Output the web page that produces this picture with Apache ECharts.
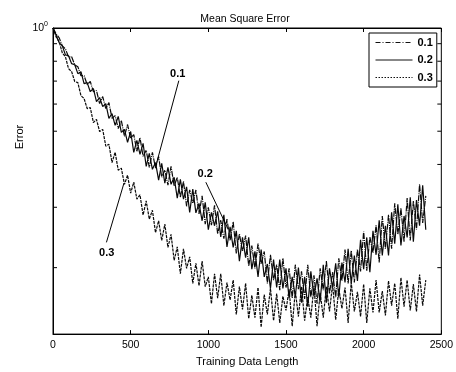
<!DOCTYPE html>
<html>
<head>
<meta charset="utf-8">
<script src="https://cdn.jsdelivr.net/npm/echarts@6/dist/echarts.min.js"></script>
<style>html,body{margin:0;padding:0;background:#fff}#c{width:456px;height:372px}</style>
</head>
<body>
<div id="c"></div>
<script>
// Training data length (samples)
var xs = [0,20,40,60,80,100,120,140,160,180,200,220,240,260,280,300,320,340,360,380,
400,420,440,460,480,500,520,540,560,580,600,620,640,660,680,700,720,740,760,780,
800,820,840,860,880,900,920,940,960,980,1000,1020,1040,1060,1080,1100,1120,1140,1160,1180,
1200,1220,1240,1260,1280,1300,1320,1340,1360,1380,1400,1420,1440,1460,1480,1500,1520,1540,1560,1580,
1600,1620,1640,1660,1680,1700,1720,1740,1760,1780,1800,1820,1840,1860,1880,1900,1920,1940,1960,1980,
2000,2020,2040,2060,2080,2100,2120,2140,2160,2180,2200,2220,2240,2260,2280,2300,2320,2340,2360,2380,2400];

// Mean square error, step size 0.1
var err01 = [1.000,.961,.936,.887,.869,.824,.824,.781,.771,.726,
.726,.684,.698,.652,.657,.602,.631,.582,.606,.545,
.555,.509,.537,.483,.523,.476,.489,.437,.479,.422,
.440,.392,.434,.390,.422,.367,.385,.348,.395,.346,
.367,.321,.357,.302,.337,.308,.337,.287,.324,.268,
.300,.266,.304,.251,.275,.243,.277,.240,.272,.220,
.251,.223,.248,.202,.232,.199,.235,.205,.223,.180,
.218,.184,.204,.172,.213,.175,.199,.163,.204,.173,
.195,.162,.204,.164,.190,.157,.199,.172,.209,.168,
.194,.164,.213,.183,.226,.180,.224,.181,.226,.195,
.255,.196,.246,.221,.266,.207,.283,.227,.285,.227,
.308,.250,.298,.238,.319,.240,.313,.258,.350,.270,.324];

// Mean square error, step size 0.2
var err02 = [1.000,.954,.905,.887,.835,.830,.787,.781,.736,.746,
.688,.693,.652,.666,.610,.627,.590,.602,.545,.563,
.520,.552,.496,.506,.464,.499,.434,.470,.428,.461,
.395,.431,.387,.405,.360,.403,.353,.392,.350,.367,
.319,.362,.317,.344,.290,.339,.289,.308,.274,.310,
.258,.290,.265,.292,.246,.285,.230,.263,.229,.256,
.209,.245,.214,.245,.198,.223,.188,.226,.188,.205,
.174,.211,.175,.211,.174,.199,.163,.188,.165,.200,
.158,.188,.154,.195,.165,.186,.159,.204,.158,.199,
.175,.206,.164,.207,.181,.227,.180,.217,.183,.241,
.198,.245,.194,.256,.218,.275,.217,.265,.217,.290,
.235,.306,.232,.283,.245,.321,.238,.315,.265,.348,.258];

// Mean square error, step size 0.3
var err03 = [1.000,.942,.911,.846,.824,.761,.746,.698,.693,.635,
.623,.582,.586,.530,.541,.499,.506,.452,.458,.405,
.434,.385,.390,.350,.372,.330,.355,.317,.326,.285,
.313,.277,.294,.253,.274,.240,.268,.229,.250,.210,
.230,.192,.227,.199,.215,.180,.206,.177,.209,.176,
.188,.157,.192,.163,.192,.155,.181,.161,.184,.146,
.176,.151,.180,.142,.166,.143,.175,.134,.167,.146,
.174,.140,.168,.138,.165,.150,.173,.135,.171,.144,
.176,.140,.164,.143,.177,.135,.169,.143,.176,.149,
.179,.141,.174,.152,.175,.138,.181,.149,.170,.144,
.179,.138,.174,.148,.184,.148,.171,.145,.183,.155,
.180,.142,.187,.154,.184,.150,.179,.149,.191,.155,.184];

var seriesNames = ['0.1','0.2','0.3'];
var xTicks = [0,500,1000,1500,2000,2500];
var yMinorTicks = [0.2,0.3,0.4,0.5,0.6,0.7,0.8,0.9];

// annotation labels and arrows (data coordinates)
var annLabels = [{name:'0.1', coord:[803,0.736]},{name:'0.2', coord:[980,0.375]},{name:'0.3', coord:[346,0.220]}];
var annArrows = [
  [[810,0.702],[660,0.393]],
  [[984,0.355],[1129,0.258]],
  [[344,0.237],[457,0.353]]
];

function pairs(v){ return xs.map(function(x,i){ return [x, v[i]]; }); }

var FONT = 'Liberation Sans, Arial, sans-serif';
var chart = echarts.init(document.getElementById('c'), null, {renderer:'canvas'});
var plotDash = [[6,1,1,1],'solid',[3,1]];
var legendDash = [[5,2,1,2],'solid',[1.5,1.5]];
var vals = [err01, err02, err03];

var series = seriesNames.map(function(n,k){
  return {
    name:n, type:'line', data:pairs(vals[k]), symbol:'none', showSymbol:false,
    lineStyle:{color:'#0a0a0a', width:1.2, type:plotDash[k]}, itemStyle:{color:'#111'},
    animation:false, silent:true, z:2
  };
});
series.push({
  name:'ann', type:'line', data:[], symbol:'none', silent:true, animation:false,
  markLine:{
    silent:true, symbol:['none','arrow'], symbolSize:[0,7], animation:false,
    lineStyle:{color:'#000', width:1, type:'solid'}, label:{show:false},
    data: annArrows.map(function(a){ return [{coord:a[0]},{coord:a[1]}]; })
  },
  markPoint:{
    silent:true, symbol:'circle', symbolSize:0, animation:false,
    label:{show:true, position:'inside', formatter:'{b}', color:'#000', fontSize:11, fontWeight:'bold', fontFamily:FONT},
    data: annLabels
  }
});
series.push({
  name:'yticks', type:'custom', data: yMinorTicks.map(function(v){ return [0,v]; }), silent:true, animation:false,
  renderItem:function(params, api){
    var p = api.coord([0, api.value(1)]);
    var cs = params.coordSys;
    return {type:'group', children:[
      {type:'line', shape:{x1:cs.x, y1:p[1], x2:cs.x+4, y2:p[1]}, style:{stroke:'#000', lineWidth:1}},
      {type:'line', shape:{x1:cs.x+cs.width-4, y1:p[1], x2:cs.x+cs.width, y2:p[1]}, style:{stroke:'#000', lineWidth:1}}
    ]};
  }
});

chart.setOption({
  animation:false,
  backgroundColor:'#fff',
  title:{text:'Mean Square Error', left:240, top:9, textAlign:'center',
    textStyle:{fontSize:10.5, fontWeight:'normal', color:'#000', fontFamily:FONT}},
  grid:{left:53, right:9, top:28, bottom:36, show:true, borderColor:'#000', borderWidth:1, backgroundColor:'transparent'},
  legend:{
    data: seriesNames.map(function(n,k){ return {name:n, lineStyle:{width:1, type:legendDash[k], color:'#111'}}; }),
    orient:'vertical', left:369, top:33, itemWidth:37, itemHeight:12, itemGap:6.5,
    padding:[4,4,4,6], borderColor:'#000', borderWidth:1, backgroundColor:'#fff',
    itemStyle:{opacity:0}, lineStyle:{width:1},
    textStyle:{fontSize:11, fontWeight:'bold', color:'#000', fontFamily:FONT}, selectedMode:false},
  xAxis:[
    {type:'value', min:xTicks[0], max:xTicks[xTicks.length-1], interval:500, position:'bottom',
     axisLine:{lineStyle:{color:'#000'}}, axisTick:{inside:true, length:4, lineStyle:{color:'#000'}},
     axisLabel:{color:'#000', fontSize:10.5, margin:6, fontFamily:FONT, formatter:function(v){ return String(v); }},
     splitLine:{show:false},
     name:'Training Data Length', nameLocation:'middle', nameGap:20,
     nameTextStyle:{fontSize:11, color:'#000', fontFamily:FONT}},
    {type:'value', min:xTicks[0], max:xTicks[xTicks.length-1], interval:500, position:'top',
     axisLine:{lineStyle:{color:'#000'}}, axisTick:{inside:true, length:4, lineStyle:{color:'#000'}},
     axisLabel:{show:false}, splitLine:{show:false}}
  ],
  yAxis:{type:'log', logBase:10, min:0.128, max:1,
    axisLine:{show:true, lineStyle:{color:'#000'}}, axisTick:{show:false}, splitLine:{show:false}, minorTick:{show:false},
    axisLabel:{color:'#000', margin:5, fontFamily:FONT, showMinLabel:false,
      formatter:function(v){ return v > 0.99 ? '{a|10}{b|0}' : ''; },
      rich:{a:{fontSize:10.5, color:'#000', fontFamily:FONT}, b:{fontSize:7, color:'#000', fontFamily:FONT, padding:[0,0,7,0]}}}},
  graphic:[{type:'text', x:20, y:137, rotation:Math.PI/2,
    style:{text:'Error', fill:'#000', font:'11px '+FONT, textAlign:'center', textVerticalAlign:'middle'}}],
  series:series
});
</script>
</body>
</html>
